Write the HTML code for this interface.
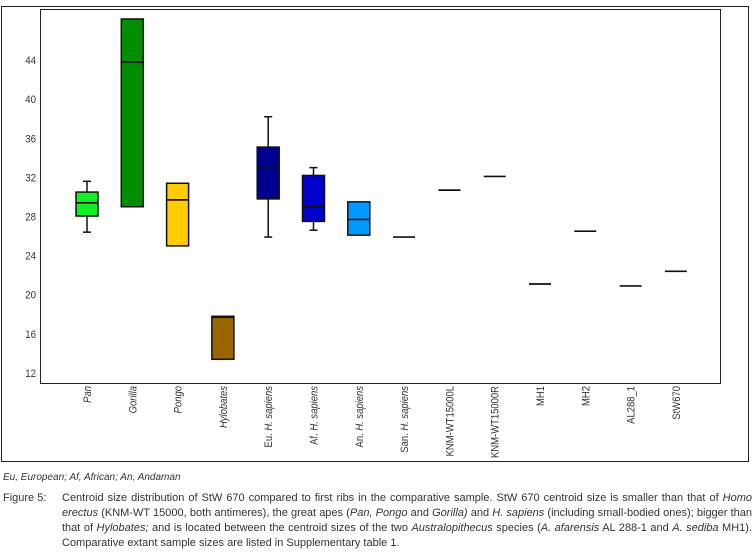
<!DOCTYPE html>
<html><head><meta charset="utf-8"><style>
body{margin:0;background:#fff;width:755px;height:558px;overflow:hidden;font-family:"Liberation Sans Narrow","Liberation Sans",sans-serif;}
.cap{position:absolute;color:#333;font-size:11px;line-height:15px;}
</style></head><body>
<svg id="chart" width="755" height="470" style="position:absolute;left:0;top:0" font-family="'Liberation Sans Narrow','Liberation Sans',sans-serif">
<rect x="1.5" y="6.5" width="747" height="455" fill="none" stroke="#222" stroke-width="1"/>
<rect x="40.5" y="9.5" width="680" height="374" fill="none" stroke="#222" stroke-width="1"/>
<g id="g"></g>
</svg>
<div class="cap" style="left:3px;top:470px;font-style:italic;font-size:10px;">Eu, European; Af, African; An, Andaman</div>
<div class="cap" style="left:3px;top:491px;">Figure 5:</div>
<div class="cap" style="left:62px;top:491px;width:690px;text-align:justify;">Centroid size distribution of StW 670 compared to first ribs in the comparative sample. StW 670 centroid size is smaller than that of <i>Homo erectus</i> (KNM-WT 15000, both antimeres), the great apes (<i>Pan, Pongo</i> and <i>Gorilla)</i> and <i>H. sapiens</i> (including small-bodied ones); bigger than that of <i>Hylobates;</i> and is located between the centroid sizes of the two <i>Australopithecus</i> species (<i>A. afarensis</i> AL 288-1 and <i>A. sediba</i> MH1). Comparative extant sample sizes are listed in Supplementary table 1.</div>
<script>
const categories=["Pan","Gorilla","Pongo","Hylobates","Eu. H. sapiens","Af. H. sapiens","An. H. sapiens","San. H. sapiens","KNM-WT15000L","KNM-WT15000R","MH1","MH2","AL288_1","StW670"];
const italicParts=[["Pan"],["Gorilla"],["Pongo"],["Hylobates"],["Eu. ","H. sapiens"],["Af. ","H. sapiens"],["An. ","H. sapiens"],["San. ","H. sapiens"],["KNM-WT15000L"],["KNM-WT15000R"],["MH1"],["MH2"],["AL288_1"],["StW670"]];
const whiskerLow=[26.4,null,null,null,25.9,26.6,null,null,null,null,null,null,null,null];
const boxLow=[28.05,29,25,13.4,29.8,27.5,26.1,null,null,null,null,null,null,null];
const medians=[29.4,43.8,29.7,17.7,33,29,27.7,25.9,30.7,32.1,21.1,26.5,20.9,22.4];
const boxHigh=[30.5,48.2,31.4,17.8,35.1,32.2,29.5,null,null,null,null,null,null,null];
const whiskerHigh=[31.6,null,null,null,38.2,33,null,null,null,null,null,null,null,null];
const colors=["#11ee22","#008f00","#ffcc00","#996600","#000090","#0000cc","#0099ff",null,null,null,null,null,null,null];
const yTicks=[12,16,20,24,28,32,36,40,44];
const ns="http://www.w3.org/2000/svg";
const g=document.getElementById("g");
const y=v=>373-(v-12)*9.78;
const x=i=>87+i*45.3;
function mk(t,a){const e=document.createElementNS(ns,t);for(const k in a)e.setAttribute(k,a[k]);g.appendChild(e);return e;}
yTicks.forEach(v=>{const t=mk("text",{x:36,y:y(v)+4,"text-anchor":"end","font-size":"11",fill:"#333",transform:`translate(${36*0.12},0) scale(0.88,1)`});t.textContent=v;

});
categories.forEach((c,i)=>{
const cx=x(i),w=22;
if(whiskerHigh[i]!=null){
const l=mk("line",{x1:cx,x2:cx,y1:y(whiskerHigh[i]),y2:y(whiskerLow[i]),stroke:"#111","stroke-width":"1.5"});


[whiskerHigh[i],whiskerLow[i]].forEach(v=>{const cap=mk("line",{x1:cx-4,x2:cx+4,y1:y(v),y2:y(v),stroke:"#111","stroke-width":"1.5"});

});
}
if(boxHigh[i]!=null){
const r=mk("rect",{x:cx-w/2,y:y(boxHigh[i]),width:w,height:y(boxLow[i])-y(boxHigh[i]),fill:colors[i],stroke:"#111","stroke-width":"1.5"});


}
const m=mk("line",{x1:cx-w/2,x2:cx+w/2,y1:y(medians[i]),y2:y(medians[i]),stroke:"#111","stroke-width":"1.7"});


const t=mk("text",{transform:`translate(${cx+4},386) rotate(-90) scale(0.86,1)`,"text-anchor":"end","font-size":"11",fill:"#333"});


const p=italicParts[i];
p.forEach((s,j)=>{const ts=document.createElementNS(ns,"tspan");ts.textContent=s;
const it=(i<4)||(p.length>1&&j===1);if(it)ts.setAttribute("font-style","italic");t.appendChild(ts);});
});
</script>
</body></html>
